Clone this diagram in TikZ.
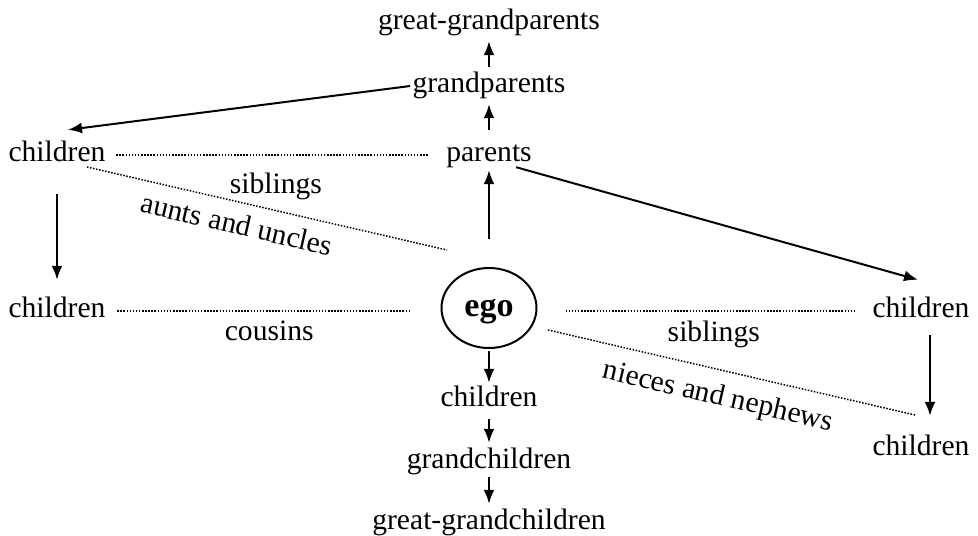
\documentclass[tikz,border=0pt]{standalone}
\usepackage{fontspec}
\setmainfont{Liberation Serif}
\usepackage{tikz}
\usetikzlibrary{arrows.meta,shapes.geometric}

\begin{document}
\begin{tikzpicture}[
  x=0.5pt, y=-0.5pt,
  font=\fontsize{14.8}{17}\selectfont,
  kin/.style={inner sep=1pt, text height=9.8pt, text depth=3pt},
  egonode/.style={draw, ellipse, line width=1pt, minimum width=47.5pt, minimum height=40pt, inner sep=0pt, text depth=0pt, font=\fontsize{17}{20}\selectfont\bfseries},
  arr/.style={-{Latex[length=7pt,width=5.5pt]}, line width=1pt},
  dot/.style={line width=0.75pt, dash pattern=on 0.75pt off 0.8pt}
]
\useasboundingbox (0,0) rectangle (978,535);
\node[kin] (ggpar) at (489,23) {great-grandparents};
\node[kin] (gpar) at (489,86) {grandparents};
\node[kin] (par) at (489,155) {parents};
\node[kin] (lch1) at (57,155) {children};
\node[kin] (lch2) at (57,311) {children};
\node[egonode] (ego) at (489,308) {ego};
\node[kin] (rch1) at (921,311) {children};
\node[kin] (rch2) at (921,449) {children};
\node[kin] (ch) at (489,400) {children};
\node[kin] (gch) at (489,462) {grandchildren};
\node[kin] (ggch) at (489,523) {great-grandchildren};
% ancestors and descendants
\draw[arr, shorten <=14pt] (ego.north) -- (par.south);
\draw[arr, shorten <=5pt, shorten >=1.5pt] (par.north) -- (gpar.south);
\draw[arr, shorten <=2pt, shorten >=1.5pt] (gpar.north) -- (ggpar.south);
\draw[arr] (gpar.west) -- ([xshift=5.5pt,yshift=5pt]lch1.north);
\draw[arr] ([xshift=-9pt,yshift=1.5pt]par.south east) -- ([xshift=-1.5pt,yshift=8pt]rch1.north);
\draw[arr, shorten <=12pt, shorten >=8pt] (lch1.south) -- (lch2.north);
\draw[arr, shorten <=4.5pt, shorten >=9pt] ([xshift=4.5pt]rch1.south) -- ([xshift=4.5pt]rch2.north);
\draw[arr, shorten <=1pt, shorten >=1pt] (ego.south) -- (ch.north);
\draw[arr, shorten <=2pt, shorten >=2pt] (ch.south) -- (gch.north);
\draw[arr, shorten >=2pt] (gch.south) -- (ggch.north);
% collateral relations
\draw[dot, shorten <=4.2pt, shorten >=7.5pt] (lch1.east) -- node[below=5.5pt]{siblings} (par.west);
\draw[dot, shorten <=4.7pt, shorten >=14.5pt] (lch2.east) -- node[pos=0.485, below=1.2pt]{cousins} ([yshift=-1.5pt]ego.west);
\draw[dot, shorten <=14pt, shorten >=6.7pt] ([yshift=-1.5pt]ego.east) -- node[pos=0.53, below=1.5pt]{siblings} (rch1.west);
\draw[dot] ([shift={(15pt,-6pt)}]lch1.center) -- node[pos=0.43, sloped, below=2pt]{aunts and uncles} ([shift={(-21pt,29pt)}]ego.center);
\draw[dot] ([shift={(29.5pt,-11pt)}]ego.center) -- node[pos=0.48, sloped, below=3.3pt]{nieces and nephews} ([shift={(-3pt,17pt)}]rch2.center);
\end{tikzpicture}
\end{document}
